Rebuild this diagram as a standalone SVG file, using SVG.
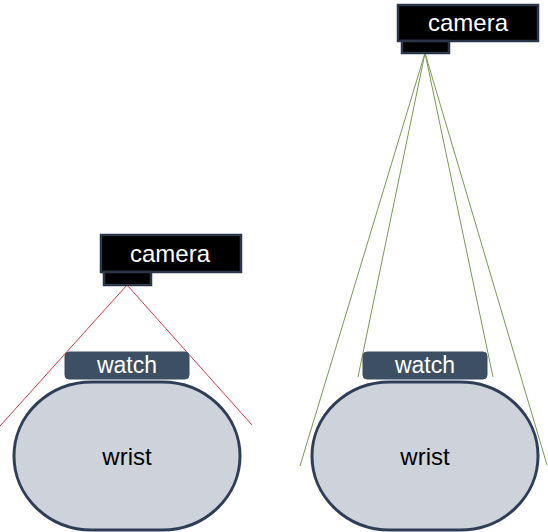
<svg xmlns="http://www.w3.org/2000/svg" width="548" height="532" viewBox="0 0 548 532">
<style>
.cam{fill:#000;stroke:#2b3648;stroke-width:2.5}
.watch{fill:#3d4f63;stroke:#3d4f63;stroke-width:1}
.wrist{fill:#ced3db;stroke:#2e3e58;stroke-width:3}
.t{font-family:"Liberation Sans",Arial,sans-serif;text-anchor:middle}
.tw{fill:#fff;font-size:23px}
.tc{fill:#fff;font-size:24px}
.tb{fill:#000;font-size:24px}
.red{stroke:#e0393a;stroke-width:1;fill:none}
.green{stroke:#7a9a55;stroke-width:1;fill:none}
</style>
<g id="connectors">
<line class="red" x1="127" y1="285" x2="0" y2="426"/>
<line class="red" x1="127" y1="285" x2="252" y2="425"/>
<line class="green" x1="425" y1="53" x2="300" y2="466"/>
<line class="green" x1="425" y1="53" x2="358" y2="377"/>
<line class="green" x1="425" y1="53" x2="493" y2="377"/>
<line class="green" x1="425" y1="53" x2="547" y2="465"/>
</g>
<g id="wrist-left">
<path class="wrist" d="M92,382 H162 A78,74 0 0 1 240,456 A78,74 0 0 1 162,530 H92 A78,74 0 0 1 14,456 A78,74 0 0 1 92,382 Z"/>
<text class="t tb" x="127" y="465">wrist</text>
</g>
<g id="watch-left">
<rect class="watch" x="65" y="352" width="124" height="27" rx="4"/>
<text class="t tw" x="127" y="373">watch</text>
</g>
<g id="camera-left">
<rect class="cam" x="101" y="235" width="140" height="37"/>
<rect class="cam" x="104" y="272" width="47" height="13"/>
<text class="t tc" x="170" y="262">camera</text>
</g>
<g id="wrist-right">
<path class="wrist" d="M390,382 H460 A78,74 0 0 1 538,456 A78,74 0 0 1 460,530 H390 A78,74 0 0 1 312,456 A78,74 0 0 1 390,382 Z"/>
<text class="t tb" x="425" y="465">wrist</text>
</g>
<g id="watch-right">
<rect class="watch" x="363" y="352" width="124" height="27" rx="4"/>
<text class="t tw" x="425" y="373">watch</text>
</g>
<g id="camera-right">
<rect class="cam" x="398" y="5" width="140" height="36"/>
<rect class="cam" x="402" y="41" width="47" height="12"/>
<text class="t tc" x="468" y="31">camera</text>
</g>
</svg>
